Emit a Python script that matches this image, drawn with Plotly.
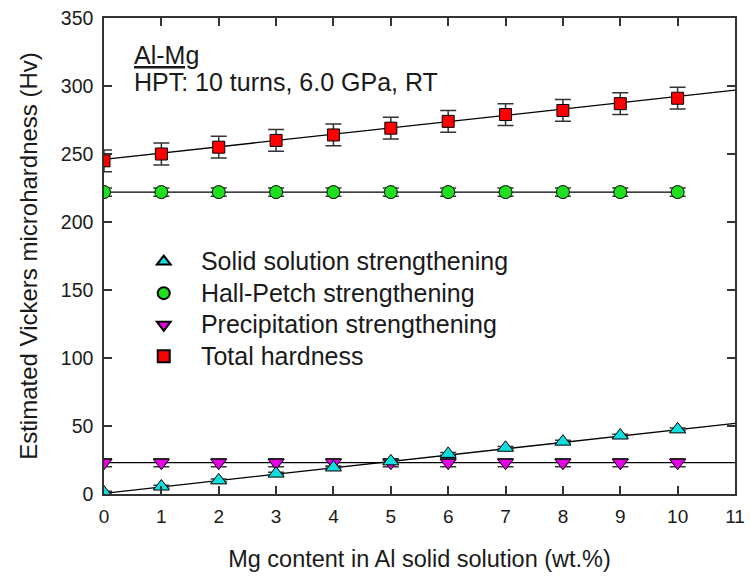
import plotly.graph_objects as go

mg = [0, 1, 2, 3, 4, 5, 6, 7, 8, 9, 10]
solid_solution = [1.0, 5.5, 10.0, 15.0, 19.5, 24.0, 29.5, 34.0, 38.5, 43.0, 47.5]
hall_petch = [222, 222, 222, 222, 222, 222, 222, 222, 222, 222, 222]
precipitation = [23, 23, 23, 23, 23, 23, 23, 23, 23, 23, 23]
total = [245, 250, 255, 260, 264, 269, 274, 279, 282, 287, 291]
total_err = [8, 8, 8, 8, 8, 8, 8, 8, 8, 8, 8]
hp_err = [3] * 11
pp_err = [3] * 11
ss_err = [1] * 11

fit_x_full = [0, 11]
fit_x_hp = [0, 10]
fit_total = [246, 297]
fit_ss = [0.5, 52]
fit_hp = [222, 222]
fit_pp = [23, 23]

names = ["Solid solution strengthening", "Hall-Petch strengthening",
         "Precipitation strengthening", "Total hardness"]

FONT = "Liberation Sans, Arial, sans-serif"
TXT = "#1a1a1a"
fig = go.Figure()

# fit lines
for fx, fy in [(fit_x_full, fit_total), (fit_x_hp, fit_hp), (fit_x_full, fit_pp), (fit_x_full, fit_ss)]:
    fig.add_trace(go.Scatter(x=fx, y=fy, mode="lines", line=dict(color="black", width=1.3),
                             showlegend=False, hoverinfo="skip"))

def pts(y, err, sym, color, name, size, rank):
    return go.Scatter(
        x=mg, y=y, mode="markers",
        name="\u2002 <span style='font-size:25px'>" + name + "</span>",
        legendrank=rank,
        marker=dict(symbol=sym, color=color, size=size, line=dict(color="black", width=1)),
        error_y=dict(type="data", array=err, visible=True, color="#333333", thickness=1.5, width=8),
    )

fig.add_trace(pts(hall_petch, hp_err, "circle", "#1fe01f", names[1], 13, 2))
fig.add_trace(pts(total, total_err, "square", "#ff0000", names[3], 12, 4))
fig.add_trace(pts(precipitation, pp_err, "triangle-down", "#e600e6", names[2], 14, 3))
fig.add_trace(pts(solid_solution, ss_err, "triangle-up", "#10dede", names[0], 14, 1))

fig.update_layout(
    width=750, height=581,
    margin=dict(l=104, r=15, t=18, b=87),
    paper_bgcolor="white", plot_bgcolor="white",
    font=dict(family=FONT, color=TXT),
    showlegend=True,
    legend=dict(
        x=0.063, y=0.532, xanchor="left", yanchor="top",
        font=dict(size=22, family=FONT, color=TXT),
        bgcolor="rgba(0,0,0,0)", traceorder="normal",
        itemsizing="constant",
    ),
    xaxis=dict(
        range=[0, 11], tickvals=list(range(12)), ticks="inside", ticklen=8,
        showline=True, linecolor="#333333", linewidth=1.5, mirror="ticks",
        tickcolor="#333333", tickwidth=1.5, automargin=False, ticklabelstandoff=4,
        showgrid=False, zeroline=False,
        tickfont=dict(size=19), title=dict(text="Mg content in Al solid solution (wt.%)",
                                           font=dict(size=23.5), standoff=25),
    ),
    yaxis=dict(
        range=[0, 350], tickvals=[0, 50, 100, 150, 200, 250, 300, 350], ticks="inside", ticklen=8,
        showline=True, linecolor="#333333", linewidth=1.5, mirror="ticks",
        tickcolor="#333333", tickwidth=1.5, automargin=False, ticklabelstandoff=5,
        showgrid=False, zeroline=False,
        tickfont=dict(size=19.5), title=dict(text="Estimated Vickers microhardness (Hv)",
                                           font=dict(size=24), standoff=16),
    ),
)

fig.add_annotation(x=0, y=1, xref="paper", yref="paper", xshift=28, yshift=-21,
                   xanchor="left", yanchor="top", showarrow=False,
                   text="<u>Al-Mg</u>", font=dict(size=25, family=FONT, color=TXT))
fig.add_annotation(x=0, y=1, xref="paper", yref="paper", xshift=28, yshift=-48,
                   xanchor="left", yanchor="top", showarrow=False,
                   text="HPT: 10 turns, 6.0 GPa, RT", font=dict(size=25, family=FONT, color=TXT))

fig.write_html("out.html", config={"displayModeBar": False},
               post_script="document.body.style.margin='0';document.body.style.padding='0';")
